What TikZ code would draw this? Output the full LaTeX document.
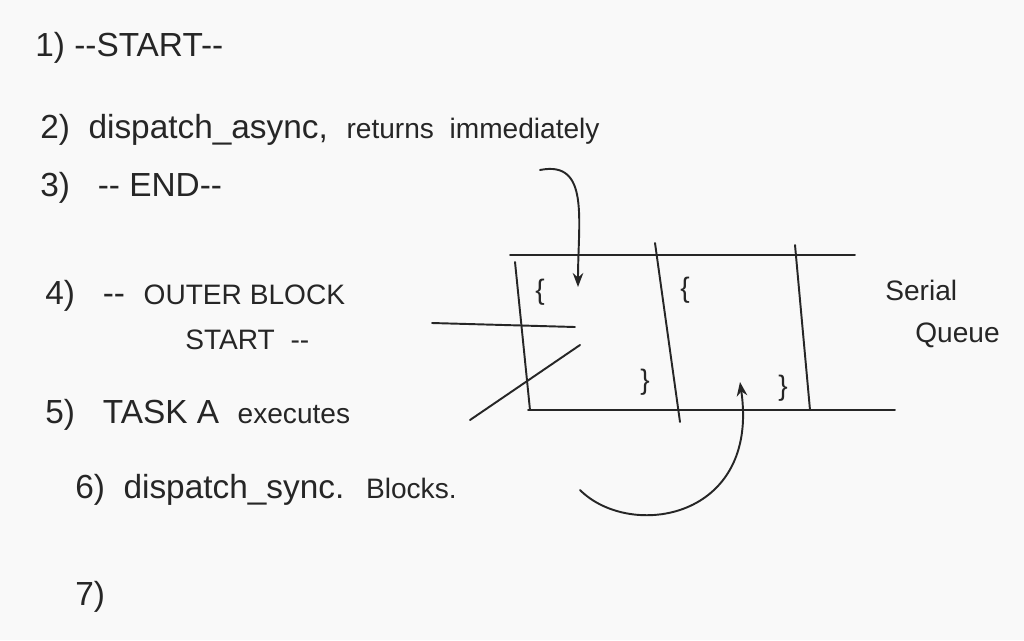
\documentclass[tikz,border=0pt]{standalone}
\usepackage{fontspec}
\setmainfont{Liberation Sans}
\usetikzlibrary{arrows.meta}
\newcommand{\sm}{\fontsize{16}{19}\selectfont}
\newcommand{\dd}{-{}-}
\begin{document}
\begin{tikzpicture}[x=0.02cm,y=-0.02cm,
  txt/.style={anchor=west,inner sep=0pt,font=\fontsize{19}{22}\selectfont,text=black!85},
  small/.style={anchor=west,inner sep=0pt,font=\fontsize{16}{19}\selectfont,text=black!85},
  pen/.style={draw=black!85,line width=1.1pt,line cap=round},
  arr/.style={pen,-{Stealth[length=8pt,width=6pt]}}]
\fill[white!95!gray] (0,0) rectangle (1024,640);
\useasboundingbox (0,0) rectangle (1024,640);
\node[txt] (t1) at (35,48) {1) \dd START\dd};
\node[txt] (t2) at (40,130) {2) \ dispatch\_async, \ {\sm returns \ immediately}};
\node[txt] (t3) at (40,188) {3) \ \ \dd\ END\dd};
\node[txt] (t4) at (45,296) {4) \ \ \dd\ \ {\sm OUTER BLOCK}};
\node[small] (t4b) at (185,340) {START \ \dd};
\node[txt] (t5) at (45,415) {5) \ \ TASK A \ {\sm executes}};
\node[txt] (t6) at (75,490) {6) \ dispatch\_sync. \ {\sm Blocks.}};
\node[txt] (t7) at (75,597) {7)};
\node[small] (sq1) at (885,290) {Serial};
\node[small] (sq2) at (915,335) {Queue};
% queue box
\draw[pen] (510,255) -- (855,255);
\draw[pen] (528,410) -- (895,410);
\draw[pen] (515,262) -- (530,410);
\draw[pen] (655,243) -- (680,422);
\draw[pen] (795,245) -- (810,410);
\node[small] (b1) at (535,292) {\{};
\node[small] (b2) at (680,290) {\{};
\node[small] (b3) at (640,382) {\}};
\node[small] (b4) at (778,388) {\}};
\coordinate (l1a) at (432,323); \coordinate (l1b) at (575,327);
\draw[pen] (l1a) -- (l1b);
\coordinate (d1) at (470,420); \coordinate (d2) at (580,345);
\draw[pen] (d1) -- (d2);
\coordinate (a1) at (540,170); \coordinate (a2) at (578,287);
\draw[arr] (a1) .. controls (590,160) and (578,220) .. (a2);
\coordinate (c1) at (580,490); \coordinate (c2) at (740,382);
\draw[arr] (c1) .. controls (630,540) and (760,520) .. (c2);
\end{tikzpicture}
\end{document}
